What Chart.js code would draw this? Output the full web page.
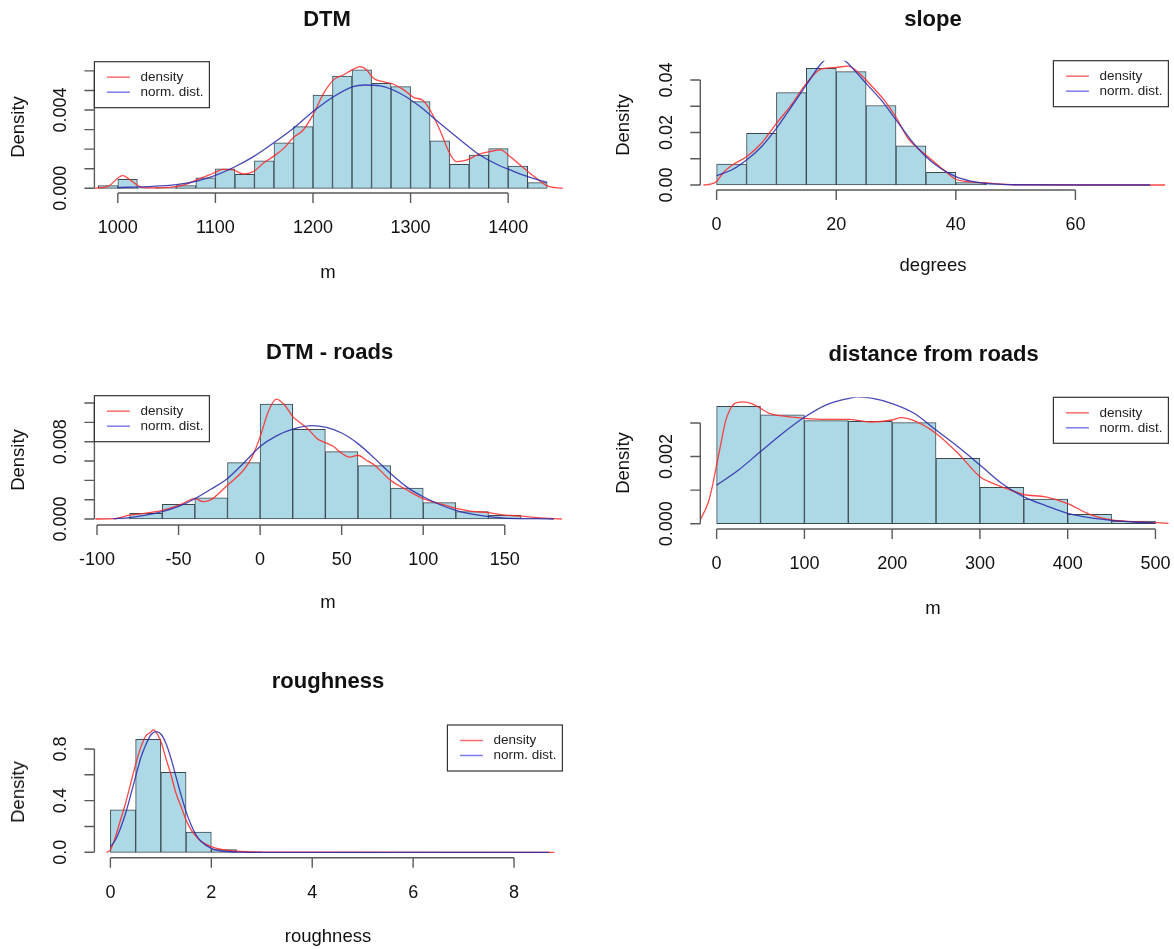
<!DOCTYPE html>
<html>
<head>
<meta charset="utf-8">
<script src="https://cdn.jsdelivr.net/npm/chart.js@4.4.0/dist/chart.umd.min.js"></script>
<style>
body { margin:0; background:#fff; width:1174px; height:949px; position:relative; overflow:hidden;
       font-family:"Liberation Sans", Arial, sans-serif; color:#111; }
canvas { position:absolute; left:0; top:0; }
.lbl { position:absolute; white-space:nowrap; transform:translate(-50%,-50%); font-size:18.5px; }
.ttl { font-weight:bold; font-size:22px; }
.rot { transform:translate(-50%,-50%) rotate(-90deg); }
</style>
</head>
<body>
<script>
// ---- DTM ----
const dtmBreaks = [980,1000,1020,1040,1060,1080,1100,1120,1140,1160,1180,1200,1220,1240,1260,1280,1300,1320,1340,1360,1380,1400,1420,1440];
const dtmDensity = [0.00014,0.00046,0.00002,0.00005,0.00014,0.00053,0.00099,0.00072,0.00141,0.00233,0.00315,0.00477,0.00574,0.00605,0.00537,0.0052,0.00443,0.00242,0.00123,0.0017,0.00203,0.00114,0.00029];
const dtmKdeX = [976,990,1005,1015,1025,1040,1064,1081,1098,1108,1118,1129,1139,1149,1159,1170,1180,1190,1200,1211,1221,1231,1241,1248,1255,1262,1272,1282,1293,1303,1313,1320,1330,1340,1347,1358,1368,1381,1392,1402,1412,1422,1432,1440,1456];
const dtmKdeY = [0,0.0001,0.00065,0.00034,0.00003,0.00002,0.00012,0.00043,0.00077,0.00097,0.00094,0.00073,0.00085,0.00128,0.00162,0.00204,0.0026,0.00298,0.00375,0.00486,0.00554,0.00579,0.00608,0.00622,0.00605,0.00562,0.00545,0.00533,0.00503,0.00465,0.00448,0.004,0.00298,0.00179,0.00136,0.00145,0.0017,0.00187,0.00196,0.00162,0.0012,0.00078,0.0004,0.00012,0];
const dtmNormX = [1000,1030,1060,1080,1098,1118,1139,1159,1180,1200,1221,1241,1253,1269,1289,1310,1330,1351,1371,1392,1402,1420,1440];
const dtmNormY = [0.00004,0.00009,0.00019,0.00036,0.00062,0.00105,0.00162,0.0023,0.00307,0.00392,0.00468,0.0052,0.00528,0.00523,0.00486,0.00417,0.00332,0.00247,0.0017,0.00114,0.00094,0.0006,0.0003];
const dtmXTicks = [1000,1100,1200,1300,1400];
const dtmYTicks = [0,0.001,0.002,0.003,0.004,0.005,0.006];
const dtmYLabels = ['0.000','','','','0.004','',''];

// ---- slope ----
const slopeBreaks = [0,5,10,15,20,25,30,35,40,45,50];
const slopeDensity = [0.008,0.0197,0.0352,0.0444,0.0432,0.0303,0.0149,0.0048,0.0009,0.0003];
const slopeKdeX = [-2.2,-1,0,1,2.5,5,7.5,10,12.5,15,17.5,20,22,24,26,28,30,32,34,36,38,40,42,45,50,75];
const slopeKdeY = [0,0.0003,0.0013,0.0044,0.0074,0.0108,0.0159,0.0235,0.0305,0.0387,0.0442,0.0448,0.0453,0.0423,0.0375,0.0324,0.0258,0.0178,0.0133,0.0095,0.0057,0.0022,0.0013,0.0008,0.0001,0];
const slopeNormX = [0,2.5,5,7.5,10,12.5,15,17.5,19.5,21.5,23,25,27.5,30,32.5,35,37.5,40,42.5,45,50,60,72.5];
const slopeNormY = [0.0036,0.0057,0.0095,0.0146,0.0216,0.0298,0.0381,0.0463,0.0495,0.0472,0.0438,0.0387,0.0324,0.0248,0.0171,0.0108,0.0063,0.0032,0.0015,0.0006,0.0001,0,0];
const slopeXTicks = [0,20,40,60];
const slopeYTicks = [0,0.01,0.02,0.03,0.04];
const slopeYLabels = ['0.00','','0.02','','0.04'];

// ---- DTM - roads ----
const roadsBreaks = [-100,-80,-60,-40,-20,0,20,40,60,80,100,120,140,160,180];
const roadsDensity = [0.00005,0.00059,0.00152,0.0022,0.00583,0.0119,0.00928,0.00697,0.00552,0.00321,0.00169,0.00076,0.00038,0.00007];
const roadsKdeX = [-101,-90,-80,-70,-60,-50,-40,-35,-30,-25,-20,-10,-5,0,5,10,15,20,25,30,35,40,45,50,55,60,65,70,80,90,100,110,120,130,140,150,160,170,185];
const roadsKdeY = [0,0.00003,0.0004,0.0006,0.0009,0.0014,0.0021,0.0018,0.002,0.0027,0.0035,0.0051,0.0064,0.0085,0.0111,0.0124,0.0118,0.0106,0.0099,0.0092,0.0083,0.0079,0.0075,0.0068,0.0064,0.0066,0.0061,0.0056,0.004,0.003,0.0021,0.0016,0.0011,0.0008,0.00066,0.0004,0.0003,0.00014,0];
const roadsNormX = [-90,-80,-70,-60,-50,-40,-30,-20,-10,0,10,20,32,40,50,60,70,80,90,100,110,120,130,140,150,170,180];
const roadsNormY = [0.00003,0.00014,0.0004,0.00076,0.0013,0.0021,0.0031,0.0042,0.0058,0.0075,0.0086,0.0093,0.00966,0.0095,0.0089,0.0078,0.0063,0.0047,0.0033,0.0023,0.0015,0.0009,0.0005,0.00024,0.0001,0.00003,0];
const roadsXTicks = [-100,-50,0,50,100,150];
const roadsYTicks = [0,0.002,0.004,0.006,0.008,0.01,0.012];
const roadsYLabels = ['0.000','','','','0.008','',''];

// ---- distance from roads ----
const distBreaks = [0,50,100,150,200,250,300,350,400,450,500];
const distDensity = [0.0035,0.00324,0.00307,0.00305,0.00301,0.00195,0.00108,0.00073,0.00028,0.00008];
const distKdeX = [-21,-10,-5,0,5,10,15,20,30,40,50,60,75,100,125,150,175,200,210,225,250,275,300,315,325,350,375,400,425,450,475,500,515];
const distKdeY = [0,0.0006,0.0011,0.00175,0.0024,0.00304,0.00339,0.00357,0.00363,0.00358,0.00344,0.00329,0.00321,0.00314,0.00311,0.00311,0.00303,0.00309,0.00316,0.00307,0.00269,0.0021,0.0014,0.0012,0.0011,0.00087,0.0008,0.0006,0.00028,0.00011,0.00006,0.00003,0.00001];
const distNormX = [0,25,50,75,100,125,150,161,175,200,225,250,275,300,325,350,375,400,425,450,475,500];
const distNormY = [0.00115,0.0016,0.00215,0.00269,0.00317,0.00354,0.00373,0.00378,0.00375,0.00358,0.00329,0.00279,0.00229,0.00175,0.0012,0.0008,0.00054,0.00031,0.00018,0.0001,0.00005,0.00002];
const distXTicks = [0,100,200,300,400,500];
const distYTicks = [0,0.001,0.002,0.003];
const distYLabels = ['0.000','','0.002',''];

// ---- roughness ----
const roughBreaks = [0,0.5,1,1.5,2,2.5,3];
const roughDensity = [0.328,0.875,0.619,0.157,0.021,0.003];
const roughKdeX = [-0.08,0,0.1,0.2,0.3,0.4,0.5,0.6,0.7,0.8,0.85,0.9,1,1.1,1.2,1.3,1.4,1.5,1.6,1.7,1.8,2,2.2,2.5,3,8.8];
const roughKdeY = [0,0.018,0.12,0.25,0.38,0.53,0.68,0.81,0.9,0.93,0.947,0.934,0.857,0.728,0.6,0.457,0.354,0.25,0.173,0.121,0.083,0.044,0.023,0.008,0.002,0];
const roughNormX = [0,0.1,0.2,0.3,0.4,0.5,0.6,0.7,0.8,0.9,1,1.1,1.2,1.3,1.4,1.5,1.6,1.7,1.8,2,2.2,2.5,3,8.7];
const roughNormY = [0.044,0.095,0.186,0.3,0.44,0.586,0.728,0.83,0.908,0.934,0.916,0.844,0.728,0.586,0.444,0.315,0.212,0.134,0.083,0.031,0.01,0.002,0,0];
const roughXTicks = [0,2,4,6,8];
const roughYTicks = [0,0.2,0.4,0.6,0.8];
const roughYLabels = ['0.0','','0.4','','0.8'];

const legendNames = ['density','norm. dist.'];

//Plugin che disegna assi e legenda in stile R
const rStyle = {
    id: 'rStyle',
    afterDraw(chart, args, o) {
        const ctx = chart.ctx, a = chart.chartArea;
        const xs = chart.scales.x, ys = chart.scales.y;
        ctx.save();
        ctx.strokeStyle = '#5a5a5a';
        ctx.lineWidth = 1.4;
        ctx.fillStyle = '#111';
        ctx.font = '18px "Liberation Sans", Arial, sans-serif';
        ctx.textAlign = 'center';
        ctx.textBaseline = 'middle';

        // asse x
        const xt = o.xTicks;
        ctx.beginPath();
        ctx.moveTo(xs.getPixelForValue(xt[0]), a.bottom);
        ctx.lineTo(xs.getPixelForValue(xt[xt.length - 1]), a.bottom);
        xt.forEach(v => {
            const px = xs.getPixelForValue(v);
            ctx.moveTo(px, a.bottom);
            ctx.lineTo(px, a.bottom + 10);
        });
        ctx.stroke();
        xt.forEach(v => ctx.fillText(String(v), xs.getPixelForValue(v), a.bottom + 35));

        // asse y
        const yt = o.yTicks;
        ctx.beginPath();
        ctx.moveTo(a.left, ys.getPixelForValue(yt[0]));
        ctx.lineTo(a.left, ys.getPixelForValue(yt[yt.length - 1]));
        yt.forEach(v => {
            const py = ys.getPixelForValue(v);
            ctx.moveTo(a.left, py);
            ctx.lineTo(a.left - 10, py);
        });
        ctx.stroke();
        yt.forEach((v, i) => {
            if (!o.yLabels[i]) return;
            ctx.save();
            ctx.translate(a.left - 33, ys.getPixelForValue(v));
            ctx.rotate(-Math.PI / 2);
            ctx.fillText(o.yLabels[i], 0, 0);
            ctx.restore();
        });

        // legenda
        const lx = o.legend[0], ly = o.legend[1], w = 115, h = 46;
        ctx.fillStyle = '#fff';
        ctx.fillRect(lx, ly, w, h);
        ctx.strokeStyle = '#333';
        ctx.lineWidth = 1.2;
        ctx.strokeRect(lx, ly, w, h);
        const cols = ['rgba(255,60,60,0.75)', 'rgba(80,80,230,0.75)'];
        ctx.font = '13.5px "Liberation Sans", Arial, sans-serif';
        ctx.textAlign = 'left';
        legendNames.forEach((name, i) => {
            const yy = ly + 15.5 + i * 15;
            ctx.strokeStyle = cols[i];
            ctx.lineWidth = 1.5;
            ctx.beginPath();
            ctx.moveTo(lx + 12.5, yy);
            ctx.lineTo(lx + 35.5, yy);
            ctx.stroke();
            ctx.fillStyle = '#222';
            ctx.fillText(name, lx + 46, yy);
        });
        ctx.restore();
    }
};

function zip(xs, ys) {
    return xs.map((x, i) => ({x: x, y: ys[i]}));
}

function mids(breaks, dens) {
    return dens.map((d, i) => ({x: (breaks[i] + breaks[i + 1]) / 2, y: d}));
}

function addText(txt, x, y, cls) {
    const d = document.createElement('div');
    d.className = 'lbl ' + (cls || '');
    d.style.left = x + 'px';
    d.style.top = y + 'px';
    d.textContent = txt;
    document.body.appendChild(d);
}

//Crea un istogramma con densita' e curva normale
function makePanel(p) {
    const cv = document.createElement('canvas');
    cv.width = 1174;
    cv.height = 949;
    document.body.appendChild(cv);
    new Chart(cv, {
        type: 'bar',
        data: {
            datasets: [
                {
                    type: 'line', data: zip(p.kdeX, p.kdeY), borderColor: 'rgba(255,40,40,0.85)',
                    borderWidth: 1.3, pointRadius: 0, cubicInterpolationMode: 'monotone', order: 1
                },
                {
                    type: 'line', data: zip(p.normX, p.normY), borderColor: 'rgba(40,40,170,0.85)',
                    borderWidth: 1.3, pointRadius: 0, cubicInterpolationMode: 'monotone', order: 0
                },
                {
                    type: 'bar', data: mids(p.breaks, p.dens), backgroundColor: '#add8e6',
                    borderColor: '#3c4a50', borderWidth: 1, borderSkipped: false,
                    barPercentage: 1, categoryPercentage: 1, order: 2
                }
            ]
        },
        options: {
            responsive: false,
            animation: false,
            devicePixelRatio: 1,
            layout: { padding: { left: p.area[0], top: p.area[1], right: 1174 - p.area[2], bottom: 949 - p.area[3] } },
            plugins: {
                legend: { display: false },
                tooltip: { enabled: false },
                rStyle: { xTicks: p.xTicks, yTicks: p.yTicks, yLabels: p.yLabels, legend: p.legend }
            },
            scales: {
                x: {
                    type: 'linear', display: false, offset: false, min: p.xlim[0], max: p.xlim[1],
                    afterBuildTicks: s => { s.ticks = p.xTicks.map(v => ({value: v})); }
                },
                y: { type: 'linear', display: false, min: p.ylim[0], max: p.ylim[1] }
            }
        },
        plugins: [rStyle]
    });
    addText(p.title, p.titlePos[0], p.titlePos[1], 'ttl');
    addText(p.xlab, p.xlabPos[0], p.xlabPos[1]);
    addText('Density', p.ylabPos[0], p.ylabPos[1], 'rot');
}

makePanel({
    breaks: dtmBreaks, dens: dtmDensity, kdeX: dtmKdeX, kdeY: dtmKdeY, normX: dtmNormX, normY: dtmNormY,
    xTicks: dtmXTicks, yTicks: dtmYTicks, yLabels: dtmYLabels,
    area: [94.4, 61.7, 563, 193], xlim: [976.0, 1456.2], ylim: [-0.00024, 0.00647], legend: [94.4, 61.7],
    title: 'DTM', titlePos: [327, 19], xlab: 'm', xlabPos: [328, 272], ylabPos: [18, 127]
});
makePanel({
    breaks: slopeBreaks, dens: slopeDensity, kdeX: slopeKdeX, kdeY: slopeKdeY, normX: slopeNormX, normY: slopeNormY,
    xTicks: slopeXTicks, yTicks: slopeYTicks, yLabels: slopeYLabels,
    area: [700.3, 60.7, 1168, 190], xlim: [-2.73, 75.48], ylim: [-0.0019, 0.04735], legend: [1053.4, 60.7],
    title: 'slope', titlePos: [933, 18.6], xlab: 'degrees', xlabPos: [933, 265], ylabPos: [622.5, 125]
});
makePanel({
    breaks: roadsBreaks, dens: roadsDensity, kdeX: roadsKdeX, kdeY: roadsKdeY, normX: roadsNormX, normY: roadsNormY,
    xTicks: roadsXTicks, yTicks: roadsYTicks, yLabels: roadsYLabels,
    area: [94.4, 395.7, 563, 525], xlim: [-101.6, 185.7], ylim: [-0.00062, 0.01276], legend: [94.4, 395.7],
    title: 'DTM - roads', titlePos: [329.6, 352], xlab: 'm', xlabPos: [328, 602], ylabPos: [18, 460]
});
makePanel({
    breaks: distBreaks, dens: distDensity, kdeX: distKdeX, kdeY: distKdeY, normX: distNormX, normY: distNormY,
    xTicks: distXTicks, yTicks: distYTicks, yLabels: distYLabels,
    area: [700.3, 397.3, 1168.8, 529], xlim: [-18.6, 515.2], ylim: [-0.000158, 0.003766], legend: [1053.4, 397.3],
    title: 'distance from roads', titlePos: [933.6, 353.5], xlab: 'm', xlabPos: [933, 608], ylabPos: [622.5, 463]
});
makePanel({
    breaks: roughBreaks, dens: roughDensity, kdeX: roughKdeX, kdeY: roughKdeY, normX: roughNormX, normY: roughNormY,
    xTicks: roughXTicks, yTicks: roughYTicks, yLabels: roughYLabels,
    area: [94.4, 725, 563, 857.7], xlim: [-0.317, 8.97], ylim: [-0.0418, 0.9853], legend: [447.4, 725],
    title: 'roughness', titlePos: [328, 681], xlab: 'roughness', xlabPos: [328, 936], ylabPos: [18, 792]
});
</script>
</body>
</html>
